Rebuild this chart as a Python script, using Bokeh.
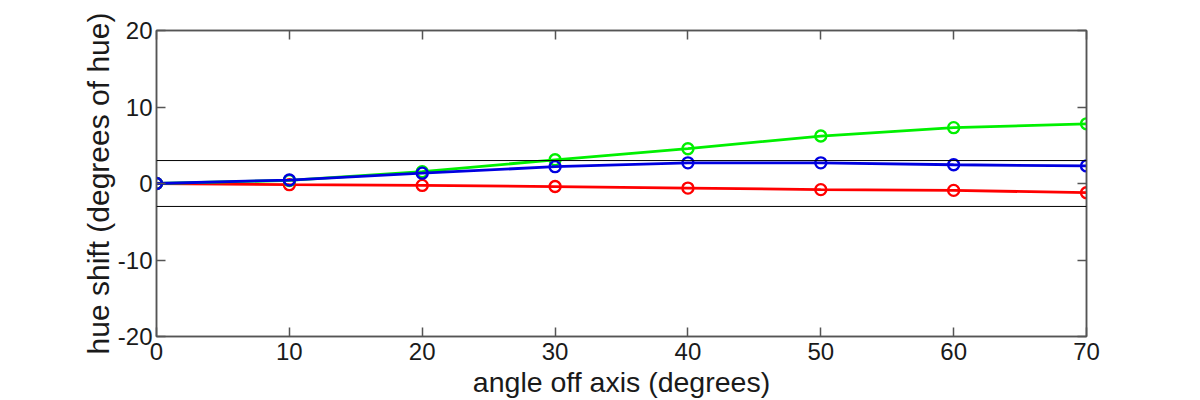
from bokeh.plotting import figure
from bokeh.models import LinearAxis, Range1d, Span, FixedTicker
from bokeh.embed import file_html
from bokeh.resources import INLINE

angles = [0, 10, 20, 30, 40, 50, 60, 70]
red_shift = [0, -0.15, -0.25, -0.4, -0.6, -0.8, -0.9, -1.2]
green_shift = [0, 0.4, 1.55, 3.1, 4.55, 6.2, 7.3, 7.8]
blue_shift = [0, 0.45, 1.35, 2.2, 2.7, 2.7, 2.45, 2.3]
x_ticks = [0, 10, 20, 30, 40, 50, 60, 70]
y_ticks = [-20, -10, 0, 10, 20]
tolerance = [3, -3]

FONT = "Liberation Sans"
AX = "#555555"

p = figure(width=1184, height=400, output_backend="svg", toolbar_location=None,
           x_range=Range1d(0, 70), y_range=Range1d(-20, 20),
           min_border_left=156, min_border_top=30, min_border_right=98,
           min_border_bottom=64, x_axis_location=None, y_axis_location=None)
p.grid.visible = False
p.outline_line_color = AX
p.outline_line_width = 1.5
p.background_fill_color = "white"
p.border_fill_color = "white"

def style(ax, ticks, labels=True, label_size="28px", tick_standoff=2, label_standoff=0):
    ax.ticker = FixedTicker(ticks=ticks)
    ax.major_tick_in = 9
    ax.major_tick_out = 0
    ax.minor_tick_in = 0
    ax.minor_tick_out = 0
    ax.axis_line_color = AX
    ax.axis_line_width = 1.5
    ax.major_tick_line_color = AX
    ax.major_tick_line_width = 1.5
    if labels:
        ax.major_label_overrides = {t: str(t) for t in ticks}
        ax.major_label_text_font = FONT
        ax.major_label_text_font_size = "24px"
        ax.major_label_text_color = "#1a1a1a"
        ax.major_label_standoff = tick_standoff
        ax.axis_label_text_font = FONT
        ax.axis_label_text_font_size = label_size
        ax.axis_label_text_font_style = "normal"
        ax.axis_label_text_color = "#1a1a1a"
        ax.axis_label_standoff = label_standoff
    else:
        ax.major_label_text_font_size = "0px"
        ax.major_label_text_color = None

xb = LinearAxis(axis_label="angle off axis (degrees)")
style(xb, x_ticks, label_size="28.5px", tick_standoff=6, label_standoff=3)
p.add_layout(xb, "below")
yl = LinearAxis(axis_label="hue shift (degrees of hue)")
style(yl, y_ticks, label_size="30px", tick_standoff=4, label_standoff=0)
p.add_layout(yl, "left")
xt = LinearAxis()
style(xt, x_ticks, labels=False)
p.add_layout(xt, "above")
yr = LinearAxis()
style(yr, y_ticks, labels=False)
p.add_layout(yr, "right")

for v in tolerance:
    p.add_layout(Span(location=v, dimension="width", line_color="black", line_width=1))

for ys, col in [(red_shift, "#ff0000"), (green_shift, "#00f000"), (blue_shift, "#0000e0")]:
    p.line(angles, ys, line_color=col, line_width=2.8)
    p.scatter(angles, ys, marker="circle", size=11, fill_color=None, line_color=col, line_width=2.4)

open("out.html", "w").write(file_html(p, INLINE))
